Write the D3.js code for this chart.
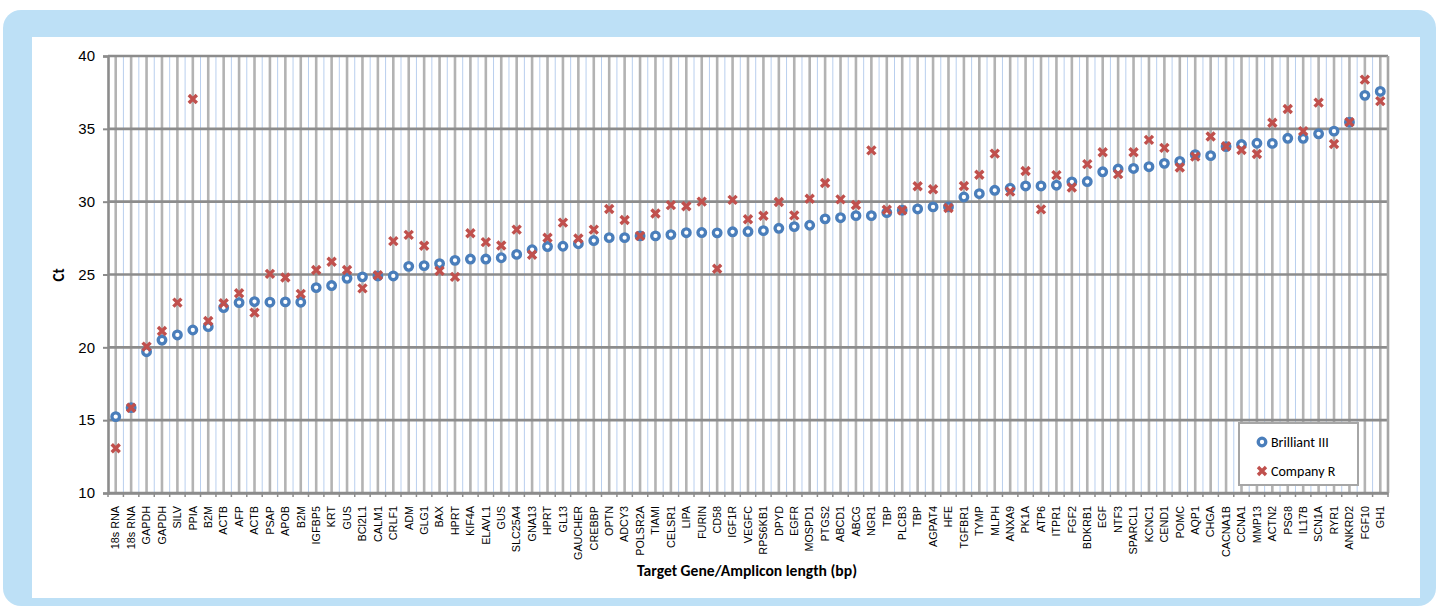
<!DOCTYPE html>
<html><head><meta charset="utf-8">
<script src="https://cdn.jsdelivr.net/npm/d3@7"></script>
<style>body{margin:0;background:#fff;}svg{display:block;font-family:Carlito,"Liberation Sans",Arial,sans-serif;}</style>
</head><body><svg id="c" width="1439" height="609"></svg>
<script>
const categories = ["18s RNA","18s RNA","GAPDH","GAPDH","SILV","PPIA","B2M","ACTB","AFP","ACTB","PSAP","APOB","B2M","IGFBP5","KRT","GUS","BCl2L1","CALM1","CRLF1","ADM","GLG1","BAX","HPRT","KIF4A","ELAVL1","GUS","SLC25A4","GNA13","HPRT","GL13","GAUCHER","CREBBP","OPTN","ADCY3","POLSR2A","TIAMI","CELSR1","LIPA","FURIN","CD58","IGF1R","VEGFC","RPS6KB1","DPYD","EGFR","MOSPD1","PTGS2","ABCD1","ABCG","NGR1","TBP","PLCB3","TBP","AGPAT4","HFE","TGFBR1","TYMP","MLPH","ANXA9","PK1A","ATP6","ITPR1","FGF2","BDKRB1","EGF","NTF3","SPARCL1","KCNC1","CEND1","POMC","AQP1","CHGA","CACNA1B","CCNA1","MMP13","ACTN2","PSG8","IL17B","SCN1A","RYR1","ANKRD2","FGF10","GH1"];
const brilliant = [15.24,15.86,19.7,20.5,20.85,21.19,21.42,22.73,23.07,23.14,23.1,23.12,23.1,24.1,24.24,24.74,24.84,24.9,24.9,25.56,25.61,25.75,25.97,26.06,26.06,26.15,26.38,26.7,26.92,26.94,27.11,27.33,27.53,27.53,27.65,27.65,27.74,27.87,27.88,27.86,27.93,27.95,28.01,28.17,28.29,28.38,28.82,28.9,29.04,29.04,29.25,29.41,29.5,29.64,29.64,30.32,30.55,30.78,30.92,31.08,31.08,31.13,31.36,31.38,32.05,32.24,32.28,32.4,32.63,32.76,33.23,33.16,33.78,33.92,34.01,34.0,34.35,34.35,34.66,34.84,35.46,37.3,37.57];
const companyR = [13.07,15.85,20.05,21.12,23.07,37.05,21.81,23.03,23.71,22.38,25.04,24.79,23.67,25.31,25.88,25.31,24.05,24.95,27.29,27.72,26.97,25.25,24.84,27.83,27.22,26.99,28.08,26.36,27.52,28.56,27.47,28.08,29.5,28.74,27.65,29.19,29.76,29.69,30.0,25.39,30.12,28.79,29.03,29.98,29.06,30.2,31.28,30.16,29.77,33.52,29.45,29.41,31.06,30.85,29.56,31.08,31.85,33.3,30.69,32.1,29.47,31.82,30.97,32.58,33.39,31.89,33.39,34.24,33.69,32.35,33.09,34.47,33.8,33.55,33.27,35.42,36.36,34.84,36.8,33.96,35.46,38.38,36.9];
const yTicks = [10,15,20,25,30,35,40];
const seriesNames = ["Brilliant III","Company R"];

const svg = d3.select("#c");
svg.append("rect").attr("x",3).attr("y",10).attr("width",1433).attr("height",596).attr("rx",18).attr("fill","#bde0f6");
svg.append("rect").attr("x",32).attr("y",37).attr("width",1388).attr("height",561).attr("fill","#fff");

const L=108,R=1388,T=56,B=493;
const idx = categories.map((d,i)=>i);
const x = d3.scaleBand().domain(idx).range([L,R]).padding(0);
const y = d3.scaleLinear().domain([10,40]).range([B,T]);
const cx = i => x(i)+x.bandwidth()/2;

const g = svg.append("g");
g.selectAll(".bl").data(d3.range(1,categories.length)).enter().append("line")
 .attr("x1",i=>x(i)).attr("x2",i=>x(i)).attr("y1",T).attr("y2",B)
 .attr("stroke","#b9cfee").attr("stroke-width",1);
g.selectAll(".gl").data(idx).enter().append("line")
 .attr("x1",cx).attr("x2",cx).attr("y1",T).attr("y2",B)
 .attr("stroke","#b3b3b3").attr("stroke-width",2.6);
g.selectAll(".hl").data(yTicks).enter().append("line")
 .attr("x1",L).attr("x2",R).attr("y1",d=>y(d)).attr("y2",d=>y(d))
 .attr("stroke","#8c8c8c").attr("stroke-width",2.6);
g.append("line").attr("x1",R).attr("x2",R).attr("y1",T).attr("y2",B).attr("stroke","#a6a6a6").attr("stroke-width",2.6);

const ya = svg.append("g").attr("transform",`translate(${L},0)`)
 .call(d3.axisLeft(y).tickValues(yTicks).tickSize(5).tickPadding(8).tickFormat(d3.format("d")));
ya.select(".domain").attr("stroke","#8c8c8c").attr("stroke-width",2.6);
ya.selectAll(".tick line").attr("stroke","#8c8c8c").attr("stroke-width",2);
ya.selectAll("text").attr("font-size",15).attr("fill","#000");

const xa = svg.append("g").attr("transform",`translate(0,${B})`)
 .call(d3.axisBottom(x).tickFormat(i=>categories[i]).tickSize(0).tickPadding(0));
xa.select(".domain").attr("stroke","#8c8c8c").attr("stroke-width",2.6);
xa.selectAll("text").attr("font-size",10.8).attr("fill","#000")
 .attr("transform","rotate(-90)").attr("text-anchor","end").attr("dy","0.35em").attr("x",-13).attr("y",0);
svg.append("g").selectAll("line").data(d3.range(0,categories.length+1)).enter().append("line")
 .attr("x1",i=>L+i*x.bandwidth()).attr("x2",i=>L+i*x.bandwidth()).attr("y1",B).attr("y2",B+4)
 .attr("stroke","#8c8c8c").attr("stroke-width",1.5);

svg.append("text").attr("transform","translate(64,275) rotate(-90)").attr("text-anchor","middle")
 .attr("font-size",15).attr("font-weight","bold").text("Ct");
svg.append("text").attr("x",747).attr("y",576).attr("text-anchor","middle")
 .attr("font-size",15.6).attr("font-weight","bold").attr("textLength",220).attr("lengthAdjust","spacingAndGlyphs").text("Target Gene/Amplicon length (bp)");

const blue="#4a7ebb", red="#c0504d";
function cross(sel,s){ sel.append("path").attr("d",`M${-s},${-s}L${s},${s}M${-s},${s}L${s},${-s}`).attr("stroke",red).attr("stroke-width",3.4).attr("fill","none"); }
svg.append("g").selectAll("circle").data(brilliant).enter().append("circle")
 .attr("cx",(d,i)=>cx(i)).attr("cy",d=>y(d)).attr("r",3.8)
 .attr("fill","#fff").attr("stroke",blue).attr("stroke-width",3.3);
svg.append("g").selectAll("g").data(companyR).enter().append("g")
 .attr("transform",(d,i)=>`translate(${cx(i)},${y(d)})`).each(function(){cross(d3.select(this),4);});

const lg = svg.append("g");
lg.append("rect").attr("x",1239).attr("y",423).attr("width",119).attr("height",62).attr("fill","#fff").attr("stroke","#a6a6a6").attr("stroke-width",2);
lg.append("circle").attr("cx",1262).attr("cy",442).attr("r",3.8).attr("fill","#fff").attr("stroke",blue).attr("stroke-width",3.3);
lg.append("text").attr("x",1271).attr("y",447).attr("font-size",14).text(seriesNames[0]);
lg.append("g").attr("transform","translate(1262,471)").call(s=>cross(s,4));
lg.append("text").attr("x",1271).attr("y",476).attr("font-size",14).text(seriesNames[1]);
</script></body></html>
